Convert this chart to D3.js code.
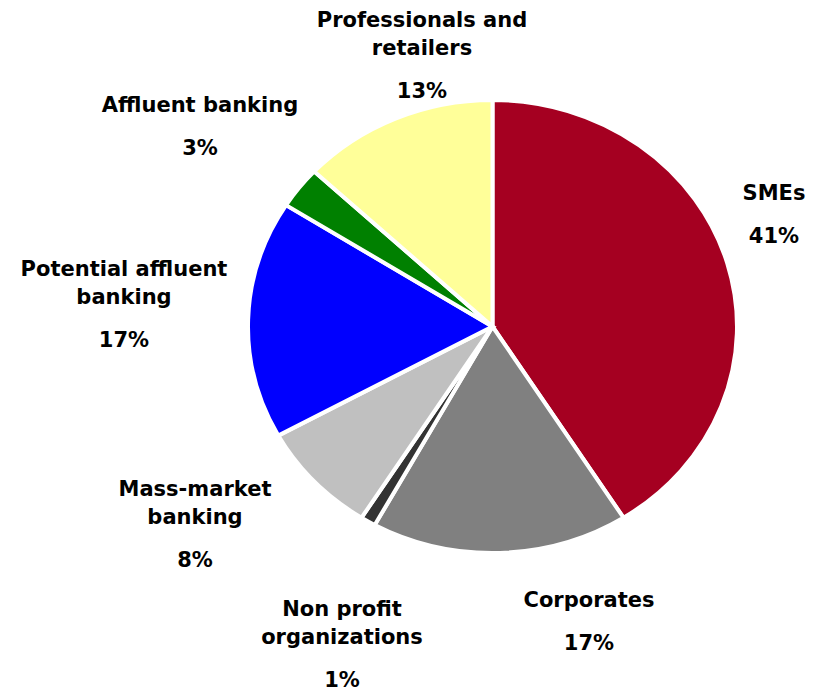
<!DOCTYPE html>
<html>
<head>
<meta charset="utf-8">
<script src="https://cdn.jsdelivr.net/npm/d3@7"></script>
<style>
  html, body { margin: 0; padding: 0; background: #fff; }
  svg text {
    font-family: "DejaVu Sans", Verdana, sans-serif;
    font-weight: bold;
    font-size: 21px;
    fill: #000;
  }
</style>
</head>
<body>
<svg id="chart" width="819" height="692"></svg>
<script>
// Client segments, clockwise from 12 o'clock
const segments = ["SMEs", "Corporates", "Non profit organizations", "Mass-market banking",
                  "Potential affluent banking", "Affluent banking", "Professionals and retailers"];
const shares = [41, 17, 1, 8, 17, 3, 13];
const colors = ["#A50021", "#808080", "#333333", "#C0C0C0", "#0000FF", "#008000", "#FFFF99"];
// Label text split into lines
const labelLines = [
  ["SMEs"],
  ["Corporates"],
  ["Non profit", "organizations"],
  ["Mass-market", "banking"],
  ["Potential affluent", "banking"],
  ["Affluent banking"],
  ["Professionals and", "retailers"]
];

// Layout
const W = 819, H = 692;
const cx = 492.5, cy = 326.5, rx = 244.5, ry = 226.5;
// label block anchors: horizontal centre and first baseline
const labelAnchor = [
  [774, 200], [589, 607], [342, 616], [195, 496], [124, 276], [200, 112], [422, 27]
];
const lineStep = 28, pctGap = 43;

const svg = d3.select("#chart");
const data = segments.map((s, i) => ({ name: s, value: shares[i], color: colors[i], i }));

const pie = d3.pie().value(d => d.value).sort(null);
const arc = d3.arc().innerRadius(0).outerRadius(ry);

const g = svg.append("g")
  .attr("transform", `translate(${cx},${cy}) scale(${rx / ry},1)`);

g.selectAll("path")
  .data(pie(data))
  .join("path")
  .attr("d", arc)
  .attr("fill", d => d.data.color)
  .attr("stroke", "#fff")
  .attr("stroke-width", 4)
  .attr("stroke-linejoin", "miter")
  .attr("vector-effect", "non-scaling-stroke");

const fmt = d3.format(".0f");
const labels = svg.append("g").attr("text-anchor", "middle");
data.forEach((d, i) => {
  const [x, y] = labelAnchor[i];
  const lines = labelLines[i];
  lines.forEach((t, k) => {
    labels.append("text").attr("x", x).attr("y", y + k * lineStep).text(t);
  });
  labels.append("text")
    .attr("x", x)
    .attr("y", y + (lines.length - 1) * lineStep + pctGap)
    .text(fmt(d.value) + "%");
});
</script>
</body>
</html>
